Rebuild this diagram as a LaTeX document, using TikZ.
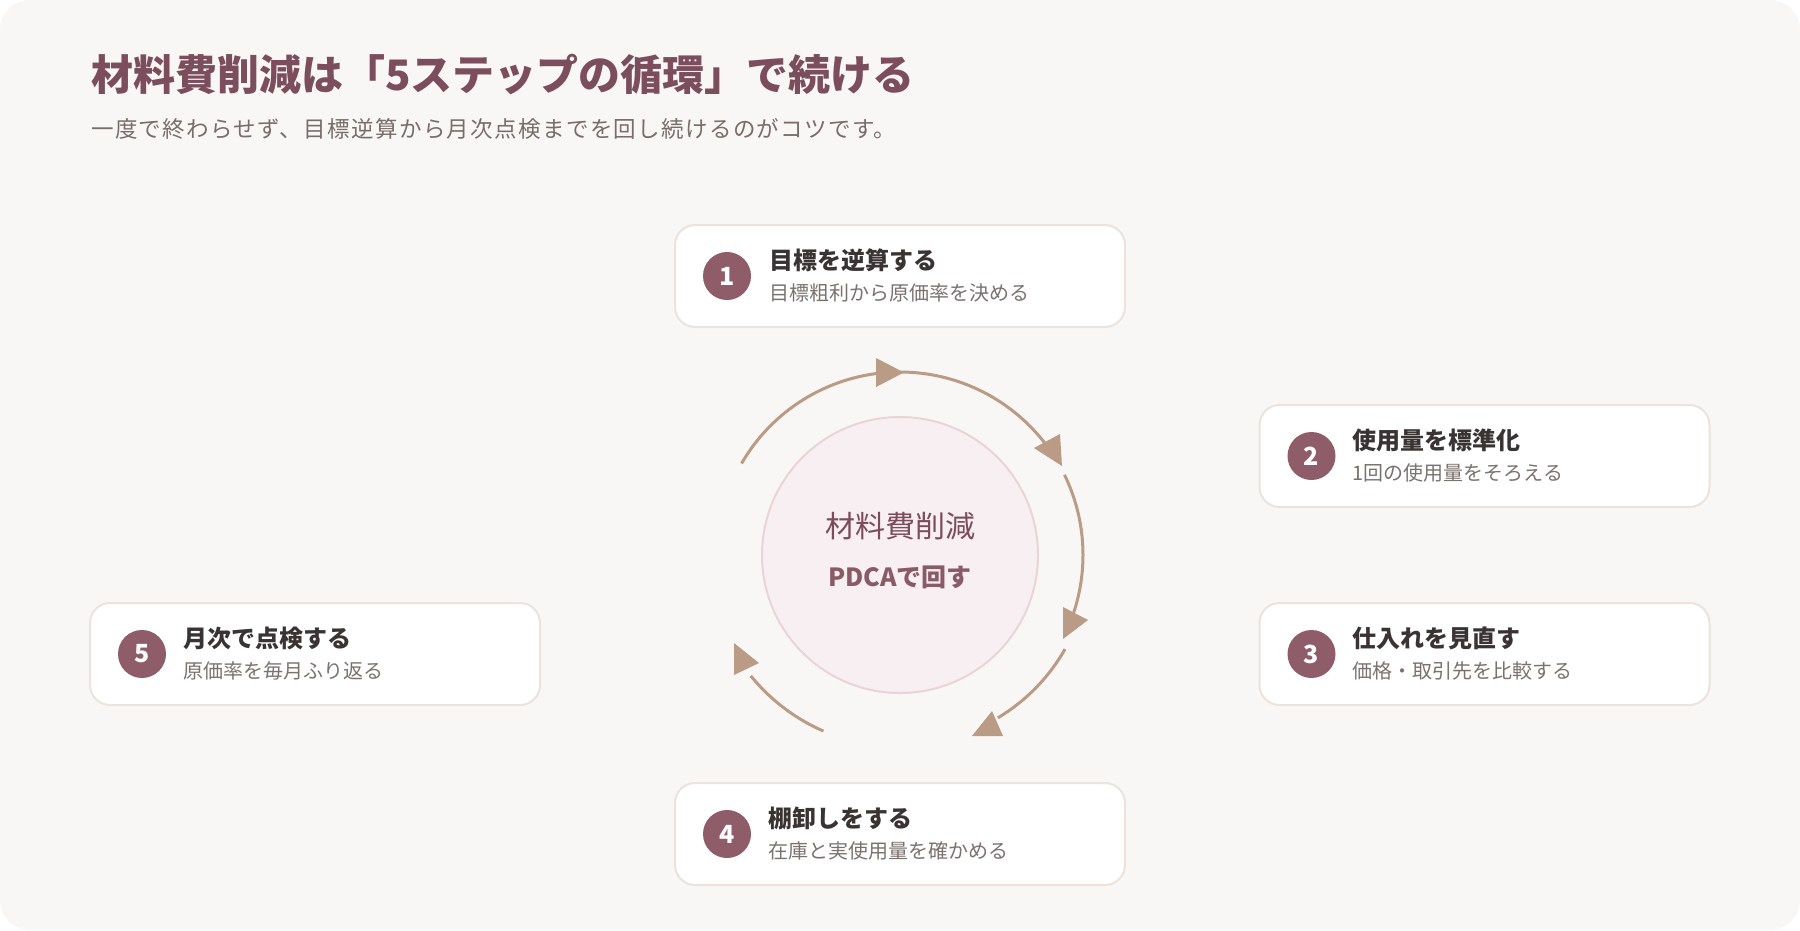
\documentclass[tikz,border=0pt]{standalone}
\usepackage{fontspec}
\setmainfont{Noto Sans CJK JP}
\newfontfamily\jpspaced[LetterSpace=6]{Noto Sans CJK JP}
\definecolor{bgc}{HTML}{F9F7F5}
\definecolor{cardline}{HTML}{EBE3DD}
\definecolor{numc}{HTML}{8F5C69}
\definecolor{titlec}{HTML}{7B4D5D}
\definecolor{leadc}{HTML}{776D6A}
\definecolor{ttlc}{HTML}{3A3333}
\definecolor{subc}{HTML}{7B7270}
\definecolor{ctrfill}{HTML}{F7EFF1}
\definecolor{ctrline}{HTML}{E8D4D9}
\definecolor{ringc}{HTML}{B99B86}
\definecolor{ctrtxt}{HTML}{7B4C5C}
\definecolor{pdcac}{HTML}{8A5A68}
\tikzset{
  card/.style={draw=cardline, line width=2pt, fill=white, rounded corners=20pt,
    minimum width=450pt, minimum height=102pt, inner sep=0pt},
  numdot/.style={circle, fill=numc, minimum size=48pt, inner sep=0pt, text=white,
    font=\fontsize{25}{25}\selectfont\bfseries},
  cardttl/.style={anchor=base west, inner sep=0pt, text=ttlc,
    font=\fontsize{24}{24}\selectfont\bfseries},
  cardsub/.style={anchor=base west, inner sep=0pt, text=subc,
    font=\fontsize{20}{20}\selectfont},
  ring/.style={draw=ringc, line width=3pt},
  ringtip/.style={fill=ringc}
}
\begin{document}
\begin{tikzpicture}[x=1pt,y=-1pt]
\useasboundingbox (0,0) rectangle (1800,930);
\fill[white] (0,0) rectangle (1800,930);
\fill[bgc, rounded corners=30pt] (0,0) rectangle (1800,930);

% heading
\node[anchor=base west, inner sep=0pt, text=titlec, font=\fontsize{42}{42}\selectfont\bfseries] (title) at (91,90) {材料費削減は「5ステップの循環」で続ける};
\node[anchor=base west, inner sep=0pt, text=leadc, font=\jpspaced\fontsize{22.5}{22.5}\selectfont] (lead) at (91,137) {一度で終わらせず、目標逆算から月次点検までを回し続けるのがコツです。};

% center circle
\node[circle, fill=ctrfill, draw=ctrline, line width=2pt, minimum size=276pt, inner sep=0pt] (ctr) at (900,555) {};
\node[anchor=base, inner sep=0pt, text=ctrtxt, font=\fontsize{30}{30}\selectfont] (ct1) at (900,537) {材料費削減};
\node[anchor=base, inner sep=0pt, text=pdcac, font=\fontsize{25}{25}\selectfont\bfseries] (ct2) at (900,586) {PDCAで回す};

% ring arcs
\draw[ring] plot[domain=-150:-32, samples=80] ({900+183*cos(\x)}, {555+183*sin(\x)});
\draw[ring] plot[domain=-26:20, samples=40] ({900+183*cos(\x)}, {555+183*sin(\x)});
\draw[ring] plot[domain=29.7:59, samples=30] ({900+190*cos(\x)}, {555+190*sin(\x)});
\draw[ring] plot[domain=113.5:141, samples=30] ({900+192*cos(\x)}, {555+192*sin(\x)});
% arrow heads
\fill[ringtip] (876,358) -- (876,387) -- (904,372.5) -- cycle;
\fill[ringtip] (1034,448) -- (1060,434) -- (1062,466) -- cycle;
\fill[ringtip] (1063,607) -- (1063,639) -- (1088,620) -- cycle;
\fill[ringtip] (972,736) -- (992,711) -- (1003,736) -- cycle;
\fill[ringtip] (734,643) -- (734,675) -- (759,663) -- cycle;

% cards
\node[card] (c1) at (900,276) {};
\node[card] (c2) at (1484.5,456) {};
\node[card] (c3) at (1484.5,654) {};
\node[card] (c4) at (900,834) {};
\node[card] (c5) at (315,654) {};

\node[numdot] (n1) at ([xshift=53pt]c1.west) {1};
\node[numdot] (n2) at ([xshift=53pt]c2.west) {2};
\node[numdot] (n3) at ([xshift=53pt]c3.west) {3};
\node[numdot] (n4) at ([xshift=53pt]c4.west) {4};
\node[numdot] (n5) at ([xshift=53pt]c5.west) {5};

\node[cardttl] (t1) at ([xshift=95pt,yshift=-45.5pt]c1.north west) {目標を逆算する};
\node[cardsub] (s1) at ([xshift=95pt,yshift=-76.5pt]c1.north west) {目標粗利から原価率を決める};
\node[cardttl] (t2) at ([xshift=94pt,yshift=-45.5pt]c2.north west) {使用量を標準化};
\node[cardsub] (s2) at ([xshift=94pt,yshift=-76.5pt]c2.north west) {1回の使用量をそろえる};
\node[cardttl] (t3) at ([xshift=94pt,yshift=-45.5pt]c3.north west) {仕入れを見直す};
\node[cardsub] (s3) at ([xshift=94pt,yshift=-76.5pt]c3.north west) {価格・取引先を比較する};
\node[cardttl] (t4) at ([xshift=94pt,yshift=-45.5pt]c4.north west) {棚卸しをする};
\node[cardsub] (s4) at ([xshift=94pt,yshift=-76.5pt]c4.north west) {在庫と実使用量を確かめる};
\node[cardttl] (t5) at ([xshift=94pt,yshift=-45.5pt]c5.north west) {月次で点検する};
\node[cardsub] (s5) at ([xshift=94pt,yshift=-76.5pt]c5.north west) {原価率を毎月ふり返る};
\end{tikzpicture}
\end{document}
